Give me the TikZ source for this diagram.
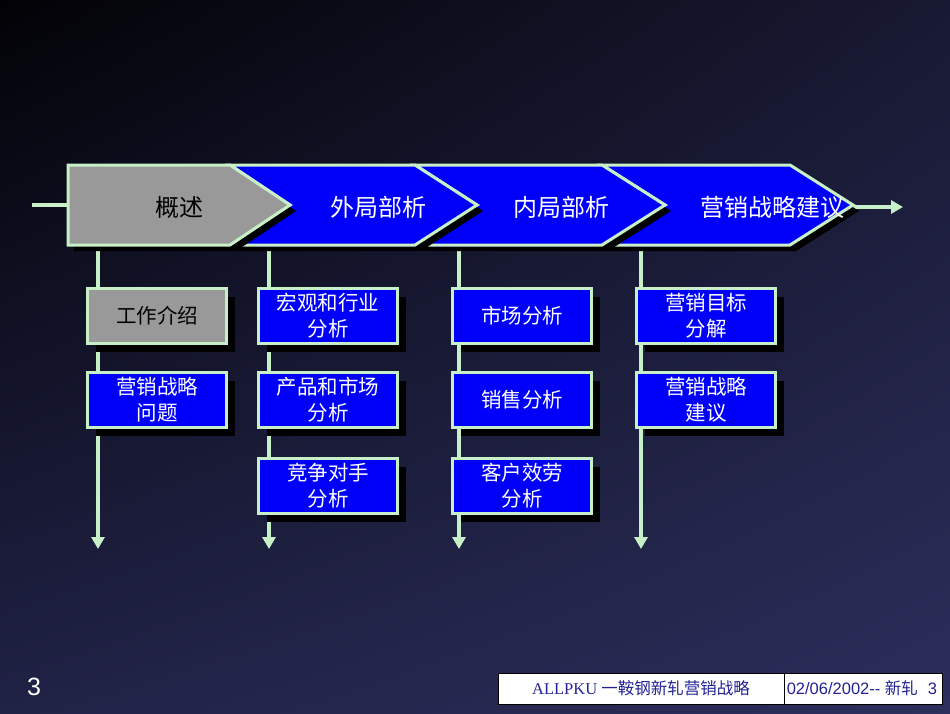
\documentclass[tikz,border=0pt]{standalone}
\usepackage{fontspec}
\setmainfont{Liberation Sans}
\newfontfamily\cjk{Noto Sans CJK SC}
\newfontfamily\serifl{Liberation Serif}
\usetikzlibrary{arrows.meta,shadings}
\definecolor{pgreen}{RGB}{200,240,200}
\definecolor{bblue}{RGB}{0,0,250}
\definecolor{ggray}{RGB}{153,153,153}
\definecolor{bgdark}{RGB}{2,2,6}
\definecolor{bgnavy}{RGB}{44,46,92}
\definecolor{bgur}{RGB}{24,25,50}
\definecolor{bgll}{RGB}{32,34,70}
\definecolor{footblue}{RGB}{35,35,150}
\tikzset{
  seg/.style={fill=bblue, draw=pgreen, line width=3pt, line join=miter},
  segshadow/.style={fill=black},
  vline/.style={draw=pgreen, line width=3.2pt, -{Triangle[length=12pt 0,width=13pt 0]}},
  box/.style={draw=pgreen, line width=2.4pt, fill=bblue, minimum width=139pt, minimum height=55pt, inner sep=0pt, align=center, text=white, font=\cjk\fontsize{20.5}{26}\selectfont},
  boxshadow/.style={fill=black},
  btitle/.style={font=\cjk\fontsize{24}{28}\selectfont, text=white, inner sep=0pt}
}
\begin{document}
\begin{tikzpicture}[x=1pt,y=-1pt]
\useasboundingbox (0,0) rectangle (950,713);
\shade[upper left=bgdark, lower right=bgnavy, upper right=bgur, lower left=bgll] (0,0) rectangle (950,713);

% vertical connector coordinates
\coordinate (t1) at (98,245);  \coordinate (e1) at (98,549);
\coordinate (t2) at (269,245); \coordinate (e2) at (269,549);
\coordinate (t3) at (459,245); \coordinate (e3) at (459,549);
\coordinate (t4) at (641,245); \coordinate (e4) at (641,549);
\foreach \i in {1,2,3,4} \draw[vline] (t\i) -- (e\i);

% left lead line and right arrow
\coordinate (lstart) at (32,205);
\coordinate (lend) at (70,205);
\draw[pgreen, line width=3.2pt] (lstart) -- (lend);
\coordinate (astart) at (853,207);
\coordinate (aend) at (903,207);
\draw[pgreen, line width=3.2pt, -{Triangle[length=12pt 0,width=13pt 0]}] (astart) -- (aend);

% banner segments, last to first with shadows
\begin{scope}[shift={(6,6)}]
\fill[segshadow] (602,165) -- (790,165) -- (853,205) -- (790,245) -- (602,245) -- (665,205) -- cycle;
\end{scope}
\draw[seg] (602,165) -- (790,165) -- (853,205) -- (790,245) -- (602,245) -- (665,205) -- cycle;
\begin{scope}[shift={(6,6)}]
\fill[segshadow] (415,165) -- (602,165) -- (665,205) -- (602,245) -- (415,245) -- (477,205) -- cycle;
\end{scope}
\draw[seg] (415,165) -- (602,165) -- (665,205) -- (602,245) -- (415,245) -- (477,205) -- cycle;
\begin{scope}[shift={(6,6)}]
\fill[segshadow] (230,165) -- (415,165) -- (477,205) -- (415,245) -- (230,245) -- (290,205) -- cycle;
\end{scope}
\draw[seg] (230,165) -- (415,165) -- (477,205) -- (415,245) -- (230,245) -- (290,205) -- cycle;
\begin{scope}[shift={(6,6)}]
\fill[segshadow] (68,165) -- (230,165) -- (290,205) -- (230,245) -- (68,245) -- cycle;
\end{scope}
\draw[seg, fill=ggray] (68,165) -- (230,165) -- (290,205) -- (230,245) -- (68,245) -- cycle;

\node[btitle, text=black] (h1) at (179,207) {概述};
\node[btitle] (h2) at (378,207) {外局部析};
\node[btitle] (h3) at (561,207) {内局部析};
\node[btitle] (h4) at (772,207) {营销战略建议};

% boxes with shadows
\foreach \x/\y in {157/316, 157/400, 328/316, 328/400, 328/486, 522/316, 522/400, 522/486, 706/316, 706/400}
  \fill[boxshadow] (\x-69.5+8,\y-27.5+8) rectangle (\x+69.5+8,\y+27.5+8);

\node[box, fill=ggray, text=black] (b11) at (157,316) {工作介绍};
\node[box] (b12) at (157,400) {营销战略\\问题};
\node[box] (b21) at (328,316) {宏观和行业\\分析};
\node[box] (b22) at (328,400) {产品和市场\\分析};
\node[box] (b23) at (328,486) {竞争对手\\分析};
\node[box] (b31) at (522,316) {市场分析};
\node[box] (b32) at (522,400) {销售分析};
\node[box] (b33) at (522,486) {客户效劳\\分析};
\node[box] (b41) at (706,316) {营销目标\\分解};
\node[box] (b42) at (706,400) {营销战略\\建议};

% footer
\node[text=white, font=\fontsize{25}{28}\selectfont, inner sep=0pt] (pg) at (34,687) {3};
\node[draw=black, fill=white, line width=0.8pt, minimum width=286pt, minimum height=31pt, inner sep=0pt, text=footblue, font=\fontsize{16.5}{19}\selectfont] (f1) at (641,688.5) {\serifl ALLPKU \cjk 一鞍钢新轧营销战略};
\node[draw=black, fill=white, line width=0.8pt, minimum width=158pt, minimum height=31pt, inner sep=0pt, anchor=west, text=footblue, font=\fontsize{16.5}{19}\selectfont] (f2) at (f1.east) {\makebox[154pt][l]{02/06/2002-{}- {\cjk 新轧}\hspace{10pt}3}};
\end{tikzpicture}
\end{document}
